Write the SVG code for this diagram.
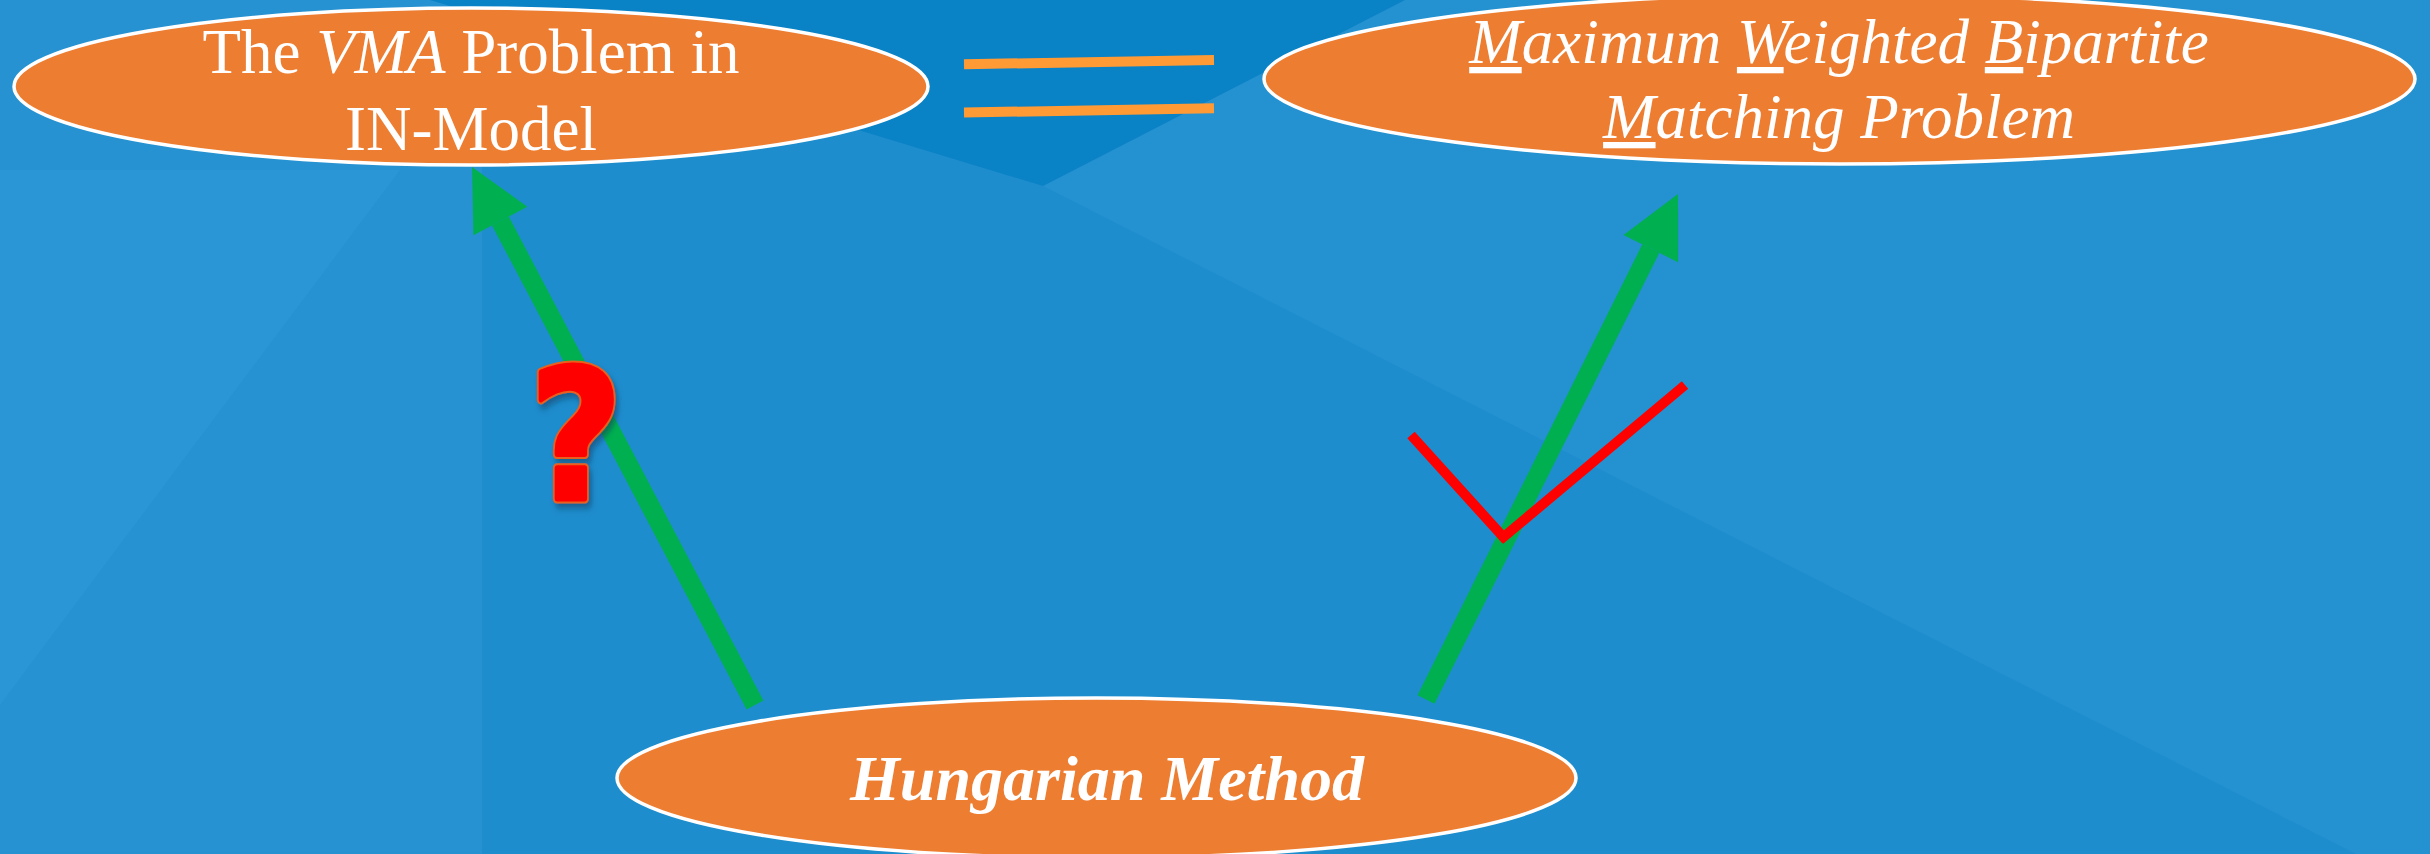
<svg xmlns="http://www.w3.org/2000/svg" width="2430" height="854" viewBox="0 0 2430 854">
<defs>
<style>
.node{fill:#ED7D31;stroke:#FFFFFF;stroke-width:3.5}
.lbl{font-family:"Liberation Serif","Times New Roman",serif;fill:#FFFFFF;font-size:63px;text-anchor:middle}
.it{font-style:italic}
.ul{text-decoration:underline}
.arrow{stroke:#00B050;stroke-width:19;fill:none;stroke-linecap:butt}
.eq{stroke:#FF9A35;stroke-width:10;fill:none}
.tick{stroke:#FF0000;stroke-width:10;fill:none;stroke-linecap:butt}
.qm{font-family:"DejaVu Sans","Liberation Sans",sans-serif;font-weight:bold;font-size:180px;text-anchor:middle;stroke-linejoin:round}
</style>
<marker id="head" markerUnits="userSpaceOnUse" markerWidth="70" markerHeight="70" refX="0" refY="35" viewBox="0 0 70 70" orient="auto" overflow="visible">
<path d="M0,4.5 L61,35 L0,65.5 Z" fill="#00B050"/>
</marker>
<filter id="shadow" x="-30%" y="-30%" width="160%" height="160%">
<feDropShadow dx="3" dy="5" stdDeviation="3" flood-color="#0A3A60" flood-opacity="0.55"/>
</filter>
</defs>
<g id="background">
<rect x="0" y="0" width="2430" height="854" fill="#1E8DCD"/>
<polygon points="482,0 2430,0 2430,854 2356,854 1043,186" fill="#2491D1"/>
<polygon points="0,0 482,0 482,854 0,854" fill="#2692D1"/>
<polygon points="0,170 400,170 0,705" fill="#2B96D5"/>
<polygon points="430,0 1043,186 1405,0" fill="#0A82C6"/>
</g>
<g id="equals">
<line class="eq" x1="964" y1="64.3" x2="1214" y2="60"/>
<line class="eq" x1="964" y1="112.5" x2="1214" y2="108.3"/>
</g>
<g id="connectors">
<line class="arrow" x1="755" y1="705" x2="500.4" y2="221" marker-end="url(#head)"/>
<line class="arrow" x1="1426" y1="699.5" x2="1650.8" y2="248.6" marker-end="url(#head)"/>
</g>
<g id="node-vma">
<ellipse class="node" cx="471" cy="86.5" rx="457" ry="78.5"/>
<text class="lbl" x="471" y="73">The <tspan class="it">VMA</tspan> Problem in</text>
<text class="lbl" x="471" y="150">IN-Model</text>
</g>
<g id="node-mwbm">
<ellipse class="node" cx="1839.5" cy="79" rx="575.5" ry="85"/>
<text class="lbl it" x="1839" y="63"><tspan class="ul">M</tspan>aximum <tspan class="ul">W</tspan>eighted <tspan class="ul">B</tspan>ipartite</text>
<text class="lbl it" x="1839" y="138"><tspan class="ul">M</tspan>atching Problem</text>
</g>
<g id="node-hungarian">
<ellipse class="node" cx="1096.5" cy="778" rx="479.5" ry="80"/>
<text class="lbl it" x="1107" y="800" style="font-weight:bold;font-size:64px">Hungarian Method</text>
</g>
<g id="annotations">
<g transform="translate(576,499) scale(0.88,1)">
<text class="qm" x="0" y="0" fill="#E8601C" stroke="#E8601C" stroke-width="9" filter="url(#shadow)">?</text>
<text class="qm" x="0" y="0" fill="#FF0000" stroke="#FF0000" stroke-width="5">?</text>
</g>
<line class="tick" x1="1411" y1="435" x2="1506" y2="540"/>
<line class="tick" x1="1500" y1="540" x2="1685" y2="385"/>
</g>
</svg>
